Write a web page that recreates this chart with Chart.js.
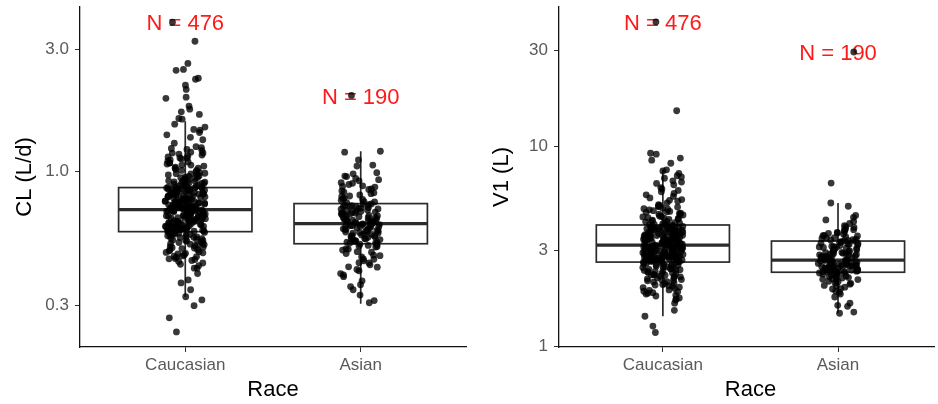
<!DOCTYPE html>
<html>
<head>
<meta charset="utf-8">
<script src="https://cdn.jsdelivr.net/npm/chart.js@4.4.1/dist/chart.umd.min.js"></script>
<style>
  html, body { margin: 0; padding: 0; background: #fff; }
  #wrap { position: relative; width: 938px; height: 404px; overflow: hidden; }
  #cl-box { position: absolute; left: 0; top: 0; }
  #v1-box { position: absolute; left: 470px; top: 0; }
</style>
</head>
<body>
<div id="wrap">
  <canvas id="cl-box" width="470" height="404"></canvas>
  <canvas id="v1-box" width="468" height="404"></canvas>
</div>

<script>
  const races = ["Caucasian", "Asian"];
  const nLabels = ["N = 476", "N = 190"];

  // CL (L/d) (a sample of the cloud)
  const clCaucasian = [3.82, 3.22, 2.64, 2.50, 2.48, 2.31, 2.29, 2.17, 2.09, 1.95, 1.93, 1.80, 1.75, 1.71, 1.67, 1.61, 1.60, 1.53, 1.49, 1.46, 1.45, 1.42, 1.39, 1.36, 1.33, 1.29, 1.25,
    1.23, 1.21, 1.18, 1.17, 1.15, 1.13, 1.12, 1.09, 1.08, 1.06, 1.05, 1.03, 1.02, 1.01,
    0.99, 0.98, 0.97, 0.95, 0.95, 0.94, 0.92, 0.92, 0.91, 0.90, 0.89, 0.88, 0.875, 0.87,
    0.864, 0.857, 0.851, 0.849, 0.838, 0.836, 0.829, 0.821, 0.819, 0.812, 0.806, 0.803, 0.797, 0.788, 0.785, 0.781, 0.776, 0.772, 0.769, 0.763, 0.761, 0.757, 0.752, 0.748, 0.744,
    0.742, 0.738, 0.733, 0.731, 0.727, 0.724, 0.722, 0.719, 0.716, 0.714, 0.712, 0.843, 0.826, 0.794, 0.779, 0.755, 0.736, 0.817, 0.801, 0.766, 0.749, 0.862, 0.833, 0.792, 0.729,
    0.709, 0.706, 0.703, 0.701, 0.698, 0.694, 0.691, 0.688, 0.684, 0.681, 0.679, 0.675, 0.672, 0.668, 0.665, 0.661, 0.659, 0.655, 0.652, 0.648, 0.646, 0.642, 0.639, 0.636, 0.632,
    0.629, 0.626, 0.622, 0.619, 0.616, 0.612, 0.609, 0.605, 0.602, 0.599, 0.596, 0.592, 0.589, 0.586, 0.584, 0.697, 0.677, 0.657, 0.634, 0.614, 0.594, 0.704, 0.671, 0.644, 0.607,
    0.579, 0.575, 0.571, 0.566, 0.562, 0.558, 0.553, 0.549, 0.545, 0.541, 0.536, 0.532, 0.527, 0.523, 0.519, 0.514, 0.509, 0.505, 0.501, 0.496, 0.491, 0.487, 0.482, 0.477, 0.473,
    0.468, 0.463, 0.458, 0.454, 0.45, 0.572, 0.556, 0.538, 0.521, 0.503, 0.484, 0.466, 0.568,
    0.44, 0.43, 0.42, 0.42, 0.40, 0.378, 0.368, 0.346, 0.325, 0.316, 0.30, 0.269, 0.237,
    1.24, 1.19, 1.16, 1.14, 1.11, 1.10, 1.07, 1.04, 1.22, 1.13, 1.06, 1.01, 1.18, 1.08, 1.03,
    0.996, 0.985, 0.972, 0.963, 0.958, 0.946, 0.937, 0.929, 0.917, 0.911, 0.903, 0.897, 0.893, 0.886, 0.879, 0.873, 0.868, 0.981, 0.926, 0.899,
    0.866, 0.861, 0.853, 0.846, 0.841, 0.834, 0.827, 0.823, 0.815, 0.808, 0.799, 0.791, 0.784, 0.777, 0.771, 0.765, 0.759, 0.753, 0.746, 0.739,
    0.734, 0.726, 0.721, 0.717, 0.713, 0.855, 0.811, 0.774, 0.741, 0.718, 0.831, 0.796, 0.758, 0.723, 0.847,
    0.71, 0.705, 0.699, 0.693, 0.687, 0.683, 0.676, 0.669, 0.663, 0.658, 0.651, 0.645, 0.64, 0.633, 0.627, 0.621, 0.615, 0.61, 0.604, 0.598,
    0.593, 0.588, 0.585, 0.702, 0.686, 0.662, 0.638, 0.618, 0.597, 0.673, 0.653, 0.631, 0.611, 0.591, 0.689,
    0.581, 0.574, 0.564, 0.555, 0.547, 0.539, 0.529, 0.517, 0.507, 0.494, 0.48, 0.469, 0.457, 0.446, 0.435];
  const clAsian = [1.98, 1.20, 1.19, 1.11, 1.06, 1.05, 0.98, 0.956, 0.94, 0.92, 0.905, 0.89, 0.88, 0.87, 0.855, 0.84, 0.832, 0.82, 0.81, 0.803, 0.79, 0.782, 0.773, 0.764, 0.757,
    0.748, 0.743, 0.736, 0.731, 0.724, 0.718, 0.713, 0.706, 0.701, 0.695, 0.689, 0.684, 0.678, 0.672, 0.667, 0.661, 0.656, 0.651, 0.646, 0.641, 0.637, 0.633, 0.629, 0.727, 0.692,
    0.625, 0.621, 0.617, 0.612, 0.608, 0.603, 0.598, 0.594, 0.589, 0.584, 0.579, 0.575, 0.571, 0.566, 0.561, 0.557, 0.552, 0.548, 0.543, 0.538, 0.534, 0.529, 0.526, 0.615, 0.586,
    0.521, 0.515, 0.508, 0.501, 0.494, 0.487, 0.479, 0.472, 0.465, 0.457, 0.449, 0.441, 0.433, 0.424, 0.415, 0.40, 0.389, 0.375, 0.362, 0.356, 0.346, 0.33, 0.314, 0.308, 0.512,
    0.99, 0.96, 0.93, 0.9, 0.875, 0.851, 0.826, 0.8, 0.778, 0.761,
    0.745, 0.738, 0.729, 0.721, 0.715, 0.708, 0.699, 0.693, 0.686, 0.68, 0.674, 0.669, 0.663, 0.658, 0.652, 0.648, 0.643, 0.638, 0.634, 0.63,
    0.626, 0.622, 0.616, 0.611, 0.605, 0.6, 0.596, 0.591, 0.587, 0.581, 0.576, 0.569, 0.563, 0.559, 0.554, 0.546, 0.541, 0.536, 0.531, 0.527,
    0.52, 0.51, 0.498, 0.485, 0.47, 0.455, 0.44, 0.425, 0.41, 0.395];
  // box stats: low whisker, Q1, median, Q3, high whisker
  const clBoxCaucasian = [0.325, 0.583, 0.711, 0.866, 1.57];
  const clBoxAsian = [0.305, 0.523, 0.627, 0.75, 1.20];
  const clTicks = [0.3, 1, 3];
  const clTickLabels = ["0.3", "1.0", "3.0"];

  // V1 (L)
  const v1Caucasian = [41.7, 15.0, 9.2, 9.1, 8.7, 8.5, 8.2, 7.6, 7.5, 7.3, 7.1, 6.9, 6.7, 6.5, 6.4, 6.2, 6.0, 5.9, 5.8, 5.6, 5.5, 5.4, 5.3, 5.2, 5.1, 5.0,
    4.95, 4.9, 4.86, 4.8, 4.75, 4.71, 4.66, 4.6, 4.56, 4.52, 4.47, 4.42, 4.38, 4.34, 4.3, 4.26, 4.22, 4.18, 4.14, 4.11, 4.08, 4.05, 4.62, 4.36,
    4.01, 3.98, 3.95, 3.93, 3.9, 3.87, 3.85, 3.82, 3.79, 3.77, 3.74, 3.72, 3.69, 3.67, 3.64, 3.62, 3.6, 3.58, 3.55, 3.53, 3.51, 3.49, 3.47, 3.45, 3.43,
    3.41, 3.39, 3.37, 3.35, 3.33, 3.31, 3.3, 3.28, 3.26, 3.24, 3.22, 3.21, 3.96, 3.8, 3.7, 3.57, 3.46, 3.36, 3.27, 3.88, 3.63, 3.42, 3.89, 3.52, 3.23,
    3.19, 3.17, 3.15, 3.14, 3.12, 3.1, 3.09, 3.07, 3.05, 3.04, 3.02, 3.0, 2.99, 2.97, 2.96, 2.94, 2.93, 2.91, 2.9, 2.88, 2.87, 2.85, 2.84, 2.83, 2.81,
    2.8, 2.78, 2.77, 2.76, 2.74, 2.73, 2.72, 2.7, 2.69, 2.68, 2.66, 2.65, 2.64, 3.13, 3.06, 2.98, 2.92, 2.86, 2.79, 2.71, 2.67, 3.16, 2.95, 2.82, 2.75,
    2.62, 2.6, 2.58, 2.56, 2.54, 2.52, 2.5, 2.48, 2.46, 2.44, 2.42, 2.4, 2.38, 2.36, 2.34, 2.32, 2.3, 2.28, 2.26, 2.24, 2.22, 2.2, 2.17, 2.15, 2.12,
    2.1, 2.07, 2.05, 2.02, 2.0, 1.97, 1.94, 1.91, 1.88, 1.85, 1.82, 1.8, 1.74, 1.64, 1.51, 1.41, 1.26, 1.17, 2.55, 2.41, 2.27, 2.13, 1.99, 1.87, 1.7,
    7.0, 6.6, 6.1, 5.7, 5.35, 5.05, 4.98, 4.83, 4.69, 4.54, 4.44, 4.32, 4.2, 4.12, 4.06,
    4.02, 3.99, 3.94, 3.91, 3.86, 3.83, 3.78, 3.75, 3.71, 3.68, 3.65, 3.61, 3.59, 3.56, 3.54, 3.5, 3.48, 3.44, 3.4, 3.38, 3.34, 3.32, 3.29, 3.25, 3.22,
    3.84, 3.66, 3.49, 3.31, 3.92,
    3.2, 3.18, 3.16, 3.13, 3.11, 3.08, 3.06, 3.03, 3.01, 2.98, 2.95, 2.92, 2.89, 2.86, 2.84, 2.81, 2.79, 2.76, 2.73, 2.71, 2.68, 2.66, 2.64,
    3.1, 2.97, 2.87, 2.77, 2.69, 3.04, 2.83,
    2.63, 2.59, 2.55, 2.51, 2.47, 2.43, 2.39, 2.35, 2.31, 2.27, 2.23, 2.19, 2.14, 2.09, 2.03, 1.96, 1.9, 1.84, 1.78, 1.72];
  const v1Asian = [29.5, 6.53, 5.19, 5.0, 4.5, 4.4, 4.27, 4.1, 4.0, 3.92, 3.85, 3.8, 3.74, 3.7, 3.66, 3.62, 3.58, 3.55, 3.51, 3.48, 3.45, 3.42, 3.39, 3.37, 3.36,
    3.33, 3.3, 3.27, 3.24, 3.2, 3.16, 3.12, 3.09, 3.05, 3.02, 2.99, 2.96, 2.93, 2.9, 2.87, 2.85, 2.82, 2.8, 2.77, 2.75, 2.73, 2.71, 2.7, 3.14, 2.89,
    2.68, 2.67, 2.65, 2.63, 2.61, 2.6, 2.58, 2.56, 2.54, 2.53, 2.51, 2.5, 2.48, 2.46, 2.45, 2.43, 2.42, 2.4, 2.39, 2.37, 2.36, 2.35, 2.62, 2.49, 2.41,
    2.33, 2.31, 2.29, 2.27, 2.25, 2.23, 2.21, 2.19, 2.17, 2.15, 2.12, 2.1, 2.07, 2.04, 2.01, 1.97, 1.93, 1.88, 1.82, 1.76, 1.64, 1.6, 1.58, 1.48, 1.46,
    4.2, 3.95, 3.82, 3.68, 3.57, 3.47, 3.4, 3.35, 3.31, 3.26,
    3.22, 3.18, 3.13, 3.08, 3.03, 2.98, 2.94, 2.91, 2.86, 2.83, 2.79, 2.76, 2.74, 2.72, 2.7, 3.11, 2.97, 2.88, 2.81, 2.78,
    2.69, 2.66, 2.64, 2.62, 2.59, 2.57, 2.55, 2.52, 2.5, 2.47, 2.45, 2.42, 2.4, 2.38, 2.36, 2.35, 2.6, 2.53, 2.44, 2.37,
    2.32, 2.28, 2.24, 2.2, 2.16, 2.11, 2.06, 2.0, 1.94, 1.86];
  const v1BoxCaucasian = [1.41, 2.63, 3.20, 4.03, 7.6];
  const v1BoxAsian = [1.46, 2.34, 2.69, 3.35, 5.19];
  const v1Ticks = [1, 3, 10, 30];
  const v1TickLabels = ["1", "3", "10", "30"];

  const FONT = "'Liberation Sans', Arial, sans-serif";

  // deterministic horizontal jitter
  function jitter(i, w) {
    const s = Math.sin(i * 12.9898 + 78.233) * 43758.5453;
    return ((s - Math.floor(s)) - 0.5) * 2 * w;
  }

  const boxPlugin = {
    id: 'boxes',
    beforeDatasetsDraw(chart, args, opts) {
      const {ctx, scales: {x, y}} = chart;
      ctx.save();
      opts.boxes.forEach(function(b, i) {
        const c = i + 1;
        const left = x.getPixelForValue(c - 0.38);
        const right = x.getPixelForValue(c + 0.38);
        const mid = x.getPixelForValue(c);
        const [lo, q1, med, q3, hi] = b.map(v => y.getPixelForValue(v));
        ctx.strokeStyle = '#2b2b2b';
        ctx.lineWidth = 1.7;
        ctx.beginPath();
        ctx.moveTo(mid, q3); ctx.lineTo(mid, hi);
        ctx.moveTo(mid, q1); ctx.lineTo(mid, lo);
        ctx.stroke();
        ctx.fillStyle = '#fff';
        ctx.fillRect(left, q3, right - left, q1 - q3);
        ctx.strokeRect(left, q3, right - left, q1 - q3);
        ctx.lineWidth = 3.2;
        ctx.beginPath();
        ctx.moveTo(left, med); ctx.lineTo(right, med);
        ctx.stroke();
      });
      // N labels sit at each group's top value
      ctx.fillStyle = '#ff1a1a';
      ctx.font = '22px ' + FONT;
      ctx.textAlign = 'center';
      ctx.textBaseline = 'middle';
      opts.groups.forEach(function(vals, i) {
        ctx.fillText(nLabels[i], x.getPixelForValue(i + 1), y.getPixelForValue(Math.max(...vals)) + 2);
      });
      ctx.restore();
    },
    afterDraw(chart, args, opts) {
      const {ctx, scales: {x}} = chart;
      ctx.save();
      ctx.fillStyle = '#000';
      ctx.font = '22px ' + FONT;
      ctx.textAlign = 'center';
      ctx.textBaseline = 'middle';
      ctx.fillText('Race', x.getPixelForValue(1.5), 390);
      ctx.restore();
    }
  };

  function makePanel(elemId, p) {
    const datasets = p.groups.map(function(vals, g) {
      return {
        data: vals.map((v, i) => ({x: g + 1 + jitter(i + g * 1000 + p.seed, 0.115), y: v})),
        pointRadius: 3.4,
        pointBorderWidth: 0,
        pointBackgroundColor: 'rgba(0,0,0,0.78)',
        showLine: false
      };
    });

    const tickFont = {family: FONT, size: 17};
    new Chart(document.getElementById(elemId), {
      type: 'scatter',
      data: {datasets: datasets},
      plugins: [boxPlugin],
      options: {
        responsive: false,
        animation: false,
        events: [],
        layout: {padding: {top: 7, right: p.padRight, left: 0, bottom: 0}},
        plugins: {
          legend: {display: false},
          tooltip: {enabled: false},
          boxes: {boxes: p.boxes, groups: p.groups}
        },
        scales: {
          x: {
            type: 'linear',
            min: p.xMin,
            max: p.xMax,
            afterBuildTicks: s => { s.ticks = races.map((r, i) => ({value: i + 1})); },
            afterFit: s => { s.height = 57; s.paddingLeft = 0; s.paddingRight = 0; },
            ticks: {callback: (v, i) => races[i], autoSkip: false, maxRotation: 0, color: '#5a5a5a', font: tickFont, padding: 3},
            grid: {drawOnChartArea: false, tickLength: 5, tickColor: '#333'},
            border: {color: '#111', width: 1.3}
          },
          y: {
            type: 'logarithmic',
            min: p.yMin,
            max: p.yMax,
            afterBuildTicks: s => { s.ticks = p.ticks.map(v => ({value: v})); },
            afterFit: s => { s.width = p.yWidth; s.paddingTop = 0; s.paddingBottom = 0; },
            ticks: {callback: (v, i) => p.tickLabels[i], autoSkip: false, color: '#5a5a5a', font: tickFont, padding: 6},
            grid: {drawOnChartArea: false, tickLength: 5, tickColor: '#333'},
            border: {color: '#111', width: 1.3},
            title: {display: true, text: p.title, color: '#000', font: {family: FONT, size: 22}, padding: {top: p.titlePad, bottom: 0}}
          }
        }
      }
    });
  }

  makePanel("cl-box", {
    groups: [clCaucasian, clAsian],
    boxes: [clBoxCaucasian, clBoxAsian],
    ticks: clTicks, tickLabels: clTickLabels,
    title: "CL (L/d)",
    yMin: 0.207, yMax: 4.38, xMin: 0.4, xMax: 2.6,
    yWidth: 80, padRight: 2, titlePad: 12, seed: 0
  });
  makePanel("v1-box", {
    groups: [v1Caucasian, v1Asian],
    boxes: [v1BoxCaucasian, v1BoxAsian],
    ticks: v1Ticks, tickLabels: v1TickLabels,
    title: "V1 (L)",
    yMin: 0.99, yMax: 49.5, xMin: 0.407, xMax: 2.548,
    yWidth: 89, padRight: 0, titlePad: 19, seed: 500
  });
</script>
</body>
</html>
